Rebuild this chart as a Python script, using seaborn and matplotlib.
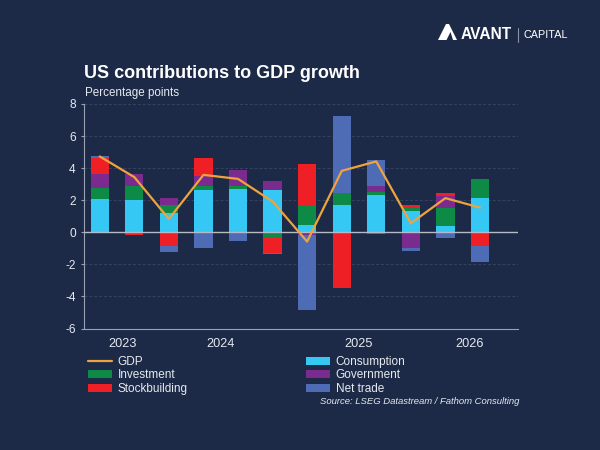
import numpy as np
import pandas as pd
import matplotlib
matplotlib.use("Agg")
import matplotlib.pyplot as plt
import seaborn as sns
from matplotlib.lines import Line2D
from matplotlib.patches import Patch, Polygon

# Data (percentage points)
QUARTERS = ["2023Q3", "2023Q4", "2024Q1", "2024Q2", "2024Q3", "2024Q4",
            "2025Q1", "2025Q2", "2025Q3", "2025Q4", "2026Q1", "2026Q2"]
CONSUMPTION = [2.06, 2.04, 1.19, 2.65, 2.67, 2.65, 0.44, 1.69, 2.35, 1.31, 0.38, 2.15]
INVESTMENT = [0.69, 0.83, 0.50, 0.25, 0.23, -0.33, 1.21, 0.77, 0.19, 0.21, 1.15, 1.19]
GOVERNMENT = [0.88, 0.77, 0.44, 0.58, 1.00, 0.54, -0.17, 0.00, 0.33, -0.96, 0.71, -0.05]
STOCKBUILDING = [0.98, -0.20, -0.83, 1.13, -0.06, -0.96, 2.58, -3.46, -0.12, 0.19, 0.23, -0.79]
NET_TRADE = [0.13, 0.00, -0.42, -1.00, -0.46, -0.04, -4.67, 4.81, 1.63, -0.23, -0.38, -1.02]
GDP = [4.73, 3.44, 0.83, 3.58, 3.33, 1.92, -0.58, 3.83, 4.42, 0.56, 2.13, 1.54]

YEARS = ["2023", "2024", "2025", "2026"]
YTICKS = [-6, -4, -2, 0, 2, 4, 6, 8]

# Styling
BG = "#1c2a47"
GRID = "#34445f"
AXIS = "#9aa2b3"
TEXT = "#e6e9ef"
COLORS = {
    "Consumption": "#35c8f4",
    "Investment": "#0c8a46",
    "Government": "#7b2a8e",
    "Stockbuilding": "#ee2026",
    "Net trade": "#4e6bb5",
}
GDP_COLOR = "#f0a33c"
BAR_WIDTH = 0.53
FONT = "Liberation Sans"

sns.set_theme(style="dark")
plt.rcParams["font.family"] = [FONT, "DejaVu Sans"]

components = {
    "Consumption": CONSUMPTION,
    "Investment": INVESTMENT,
    "Government": GOVERNMENT,
    "Stockbuilding": STOCKBUILDING,
    "Net trade": NET_TRADE,
}
df = pd.DataFrame(components, index=QUARTERS)
pos_cum = df.clip(lower=0).cumsum(axis=1)
neg_cum = df.clip(upper=0).cumsum(axis=1)

fig = plt.figure(figsize=(6, 4.5), dpi=100, facecolor=BG)
ax = fig.add_axes([83.5 / 600, 1 - 328.5 / 450, (518 - 83.5) / 600, (328.5 - 104) / 450])
ax.set_facecolor(BG)

# stacked bars: draw cumulative totals from the top layer down
for name in reversed(list(components.keys())):
    for cum in (pos_cum, neg_cum):
        sns.barplot(x=QUARTERS, y=cum[name].values, color=COLORS[name],
                    saturation=1, width=BAR_WIDTH, errorbar=None,
                    linewidth=0, ax=ax, zorder=2)

sns.lineplot(x=np.arange(len(QUARTERS)), y=GDP, color=GDP_COLOR,
             linewidth=1.6, ax=ax, zorder=4)

ax.axhline(0, color="#b4bac6", linewidth=1.0, zorder=3)
ax.set_ylim(-6, 8)
ax.set_xlim(-0.47, 12.1)
ax.set_yticks(YTICKS)
ax.set_yticklabels([str(v) for v in YTICKS])
ax.yaxis.grid(True, color=GRID, linestyle=(0, (3, 2)), linewidth=0.7)
ax.xaxis.grid(False)
ax.set_axisbelow(True)
ax.set_xlabel("")
ax.set_ylabel("")

# year separators as major ticks, year names as minor tick labels
ax.set_xticks([1.5, 5.5, 9.5])
ax.set_xticklabels(["", "", ""])
ax.set_xticks([0.65, 3.5, 7.5, 10.7], minor=True)
ax.set_xticklabels(YEARS, minor=True)
ax.tick_params(axis="x", which="major", length=3, width=0.8, color=AXIS, direction="out")
ax.tick_params(axis="x", which="minor", length=0, pad=6.5, labelsize=9.2, labelcolor=TEXT)
ax.tick_params(axis="y", length=2.5, width=0.8, color=AXIS, pad=3,
               labelsize=8.6, labelcolor=TEXT, left=True)

for side in ("top", "right"):
    ax.spines[side].set_visible(False)
for side in ("left", "bottom"):
    ax.spines[side].set_visible(True)
    ax.spines[side].set_color(AXIS)
    ax.spines[side].set_linewidth(0.8)

# titles
fig.text(84 / 600, 1 - 77.7 / 450, "US contributions to GDP growth", color="white",
         fontsize=13, fontweight="bold", ha="left", va="baseline")
fig.text(85 / 600, 1 - 96 / 450, "Percentage points", color=TEXT,
         fontsize=8.4, ha="left", va="baseline")

# legends
left_handles = [
    Line2D([0], [0], color=GDP_COLOR, linewidth=1.6, label="GDP"),
    Patch(facecolor=COLORS["Investment"], edgecolor="none", label="Investment"),
    Patch(facecolor=COLORS["Stockbuilding"], edgecolor="none", label="Stockbuilding"),
]
right_handles = [
    Patch(facecolor=COLORS["Consumption"], edgecolor="none", label="Consumption"),
    Patch(facecolor=COLORS["Government"], edgecolor="none", label="Government"),
    Patch(facecolor=COLORS["Net trade"], edgecolor="none", label="Net trade"),
]
legend_kw = dict(loc="upper left", frameon=False, fontsize=8.5, labelcolor=TEXT,
                 borderpad=0, borderaxespad=0, handlelength=2.0, handletextpad=0.5,
                 labelspacing=0.12)
fig.legend(handles=left_handles, bbox_to_anchor=(88 / 600, 1 - 356 / 450), **legend_kw)
fig.legend(handles=right_handles, bbox_to_anchor=(306 / 600, 1 - 356 / 450), **legend_kw)

fig.text(519 / 600, 1 - 402 / 450, "Source: LSEG Datastream / Fathom Consulting",
         color=TEXT, fontsize=6.8, style="italic", ha="right", va="center")

# logo
def px(x, y):
    return (x / 600, 1 - y / 450)

fig.patches.append(Polygon([px(438, 40), px(446, 24), px(449, 24), px(457, 40)],
                           closed=True, facecolor="white", edgecolor="none",
                           transform=fig.transFigure, figure=fig))
fig.patches.append(Polygon([px(446.5, 40), px(450.5, 32), px(453, 40)],
                           closed=True, facecolor=BG, edgecolor="none",
                           transform=fig.transFigure, figure=fig))
fig.text(461 / 600, 1 - 34.5 / 450, "AVANT", color="white", fontsize=11.2,
         fontweight="bold", ha="left", va="center")
fig.lines.append(Line2D([518 / 600, 518 / 600], [1 - 28 / 450, 1 - 42 / 450],
                        color="#8a93a6", linewidth=0.8, transform=fig.transFigure))
fig.text(524 / 600, 1 - 35 / 450, "CAPITAL", color="white", fontsize=7.8,
         ha="left", va="center")

fig.savefig("out.png", dpi=100, facecolor=BG)
plt.close(fig)
